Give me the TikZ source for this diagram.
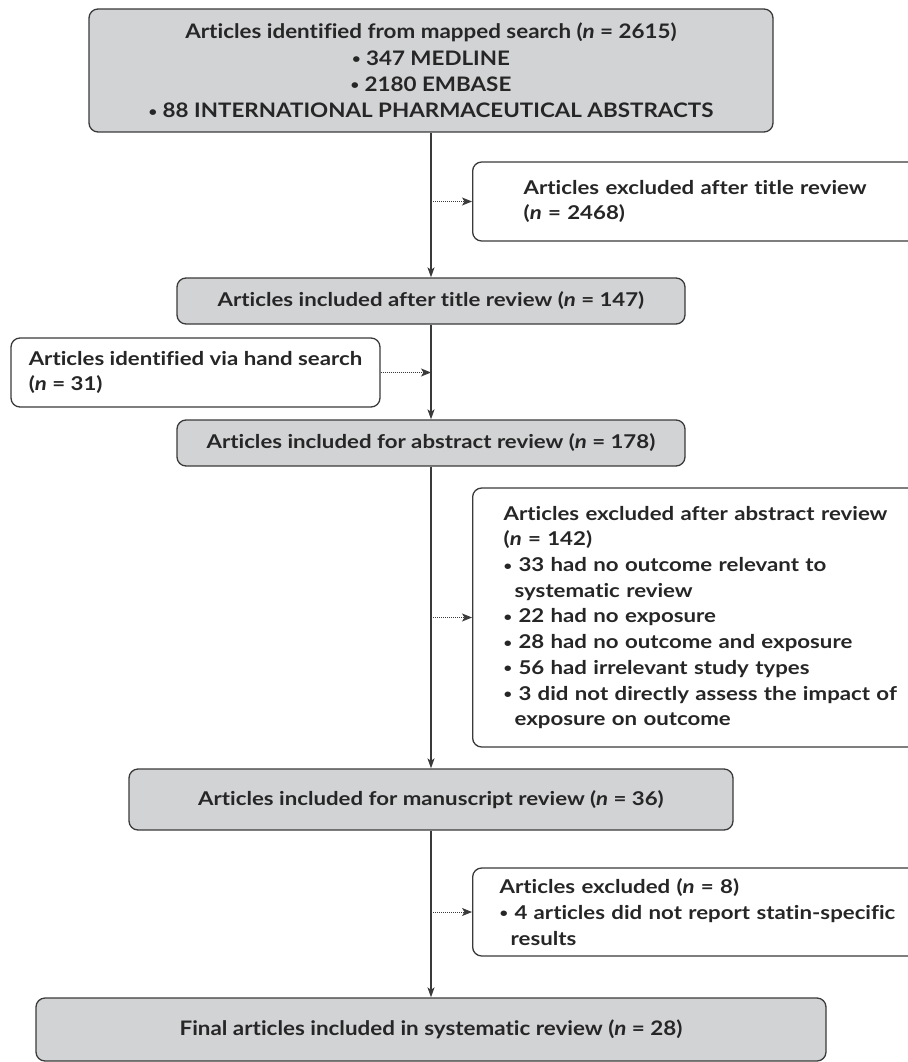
\documentclass[tikz,border=0pt]{standalone}
\usepackage{fontspec}
\setmainfont{Lato}[FakeStretch=1.17, Ligatures=NoCommon]
\newfontfamily\condfont{Lato}[FakeStretch=1.12, Ligatures=NoCommon]
\newcommand\blt{\raisebox{1.5pt}{\scalebox{0.66}{\textbullet}}\ }
\newcommand\bind{\hspace*{11pt}}
\usetikzlibrary{arrows.meta}

\begin{document}
\begin{tikzpicture}[x=1pt, y=-1pt,
  flow/.style={draw=lineDark, line width=1.3pt, -{Stealth[length=10pt, width=7pt, inset=2.5pt]}},
  side/.style={draw=lineDark, line width=0.9pt, dash pattern=on 1pt off 1pt, -{Stealth[length=10pt, width=8pt, inset=2.5pt]}},
  mainBox/.style={draw=lineDark, fill=boxGray, line width=1.3pt, rounded corners=9pt, align=center, text=textDark, font=\fontsize{19}{25}\selectfont\bfseries},
  condBox/.style={mainBox, font=\condfont\fontsize{20}{26.3}\selectfont\bfseries},
  exBox/.style={draw=lineDark, fill=white, line width=1.3pt, rounded corners=9pt, align=left, anchor=west, text=textDark, font=\fontsize{19}{25.7}\selectfont\bfseries}]

% Colori
\definecolor{boxGray}{HTML}{D2D3D5}
\definecolor{lineDark}{HTML}{3A3A3A}
\definecolor{textDark}{HTML}{262626}

% Riquadro della pagina
\useasboundingbox (0,0) rectangle (907,1062);

% Ricerca iniziale
\node[condBox, minimum width=684, minimum height=123] (search) at (431,70.5)
  {Articles identified from mapped search (\textit{n} = 2615)\\
   \blt 347 MEDLINE\\ \blt 2180 EMBASE\\ \blt 88 INTERNATIONAL PHARMACEUTICAL ABSTRACTS};

% Esclusi dopo il titolo
\node[exBox, inner xsep=51, text width=420, minimum height=79] (exTitle) at (472,201.5)
  {Articles excluded after title review\\ (\textit{n} = 2468)};

% Inclusi dopo il titolo
\node[mainBox, minimum width=508, minimum height=46] (inclTitle) at (431,301)
  {Articles included after title review (\textit{n} = 147)};

% Ricerca manuale
\node[exBox, anchor=center, minimum width=369, minimum height=69] (hand) at (195.5,372.5)
  {Articles identified via hand search\\ (\textit{n} = 31)};

% Inclusi per l'abstract
\node[mainBox, minimum width=508, minimum height=46] (inclAbs) at (431,443)
  {Articles included for abstract review (\textit{n} = 178)};

% Esclusi dopo l'abstract
\node[exBox, inner xsep=31, text width=420, minimum height=259] (exAbs) at (472,617.5)
  {Articles excluded after abstract review\\ (\textit{n} = 142)\\
   \blt 33 had no outcome relevant to\\ \bind systematic review\\
   \blt 22 had no exposure\\
   \blt 28 had no outcome and exposure\\
   \blt 56 had irrelevant study types\\
   \blt 3 did not directly assess the impact of\\ \bind exposure on outcome};

% Inclusi per il manoscritto
\node[mainBox, minimum width=604, minimum height=61] (inclMan) at (431,799.5)
  {Articles included for manuscript review (\textit{n} = 36)};

% Esclusi dopo il manoscritto
\node[exBox, inner xsep=27, text width=420, minimum height=88] (exMan) at (472,912)
  {Articles excluded (\textit{n} = 8)\\
   \blt 4 articles did not report statin-specific\\ \bind results};

% Articoli finali
\node[condBox, minimum width=790, minimum height=63] (final) at (431,1029.5)
  {Final articles included in systematic review (\textit{n} = 28)};

% Frecce principali
\draw[flow] (search) -- (inclTitle);
\draw[flow] (inclTitle) -- (inclAbs);
\draw[flow] (inclAbs) -- (inclMan);
\draw[flow] (inclMan) -- (final);

% Frecce laterali
\draw[side] (exTitle.west -| search.south) -- (exTitle.west);
\draw[side] (hand.east) -- (hand.east -| inclTitle.south);
\draw[side] (exAbs.west -| inclAbs.south) -- (exAbs.west);
\draw[side] (exMan.west -| inclMan.south) -- (exMan.west);
\end{tikzpicture}
\end{document}
